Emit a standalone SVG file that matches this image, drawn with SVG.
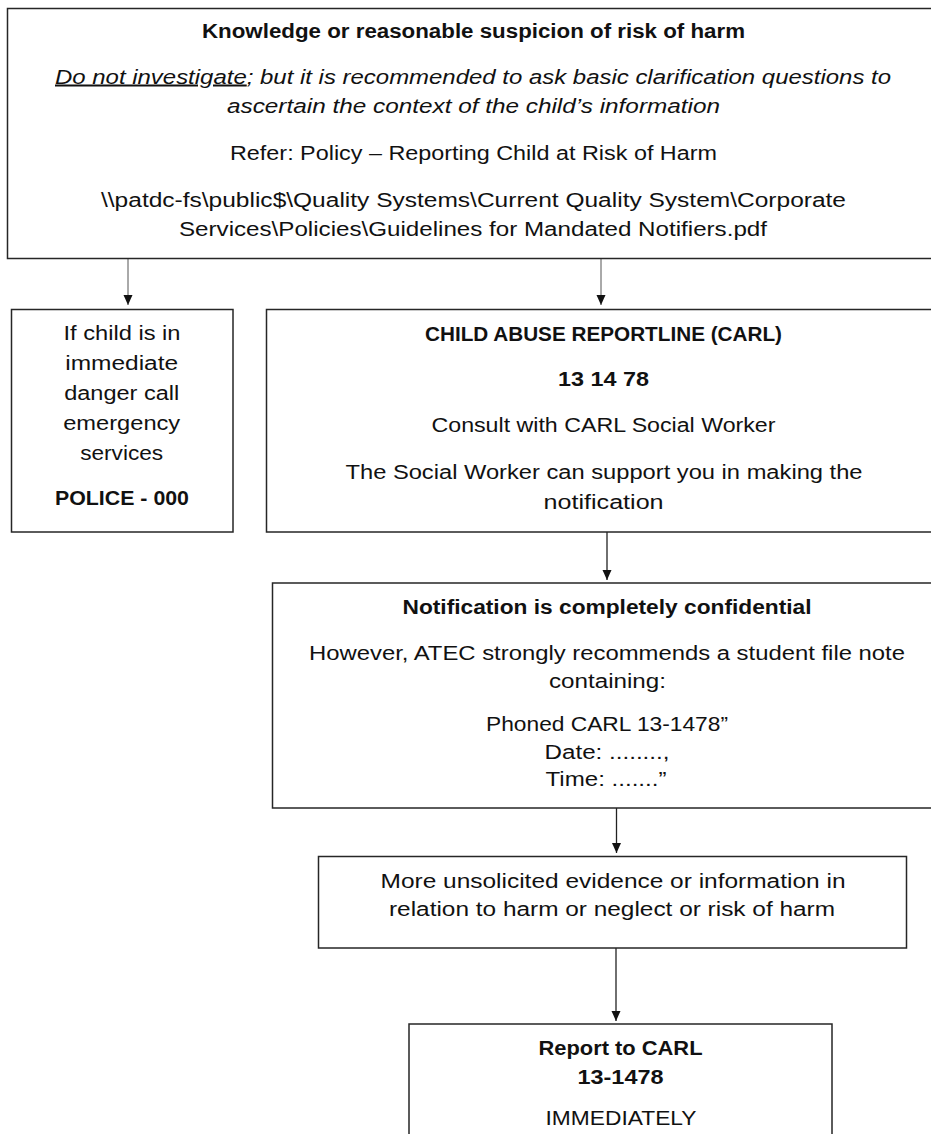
<svg xmlns="http://www.w3.org/2000/svg" width="931" height="1134" viewBox="0 0 931 1134">
<style>
  .box { fill: #ffffff; stroke: #262626; stroke-width: 1.5; }
  .t { font-family: "Liberation Sans", Arial, sans-serif; font-size: 20px; fill: #111111; text-anchor: middle; }
  .b { font-weight: bold; }
  .i { font-style: italic; }
  .u { text-decoration: underline; }
  .conn { stroke: #222222; stroke-width: 1.3; fill: none; marker-end: url(#arrow); }
  .conn.light { stroke: #555555; stroke-width: 1; }
</style>
<defs>
  <marker id="arrow" markerUnits="userSpaceOnUse" markerWidth="10" markerHeight="10" refX="10" refY="4.5" orient="auto">
    <path d="M0,0 L10,4.5 L0,9 Z" fill="#111111"/>
  </marker>
</defs>
<rect width="931" height="1134" fill="#ffffff"/>

<g id="connectors">
  <line class="conn light" x1="128" y1="259" x2="128" y2="305"/>
  <line class="conn light" x1="601" y1="259" x2="601" y2="305"/>
  <line class="conn" x1="607" y1="532" x2="607" y2="580"/>
  <line class="conn" x1="616.5" y1="808" x2="616.5" y2="853"/>
  <line class="conn" x1="616" y1="948" x2="616" y2="1021"/>
</g>

<g id="node-knowledge">
  <rect class="box" x="7.5" y="8.5" width="935" height="250"/>
  <text class="t b" x="473.5" y="37.5" textLength="543" lengthAdjust="spacingAndGlyphs">Knowledge or reasonable suspicion of risk of harm</text>
  <text class="t i" x="473" y="83.5" textLength="836" lengthAdjust="spacingAndGlyphs"><tspan class="u">Do not investigate</tspan>; but it is recommended to ask basic clarification questions to</text>
  <text class="t i" x="473.5" y="112.5" textLength="493" lengthAdjust="spacingAndGlyphs">ascertain the context of the child’s information</text>
  <text class="t" x="473.5" y="160" textLength="487" lengthAdjust="spacingAndGlyphs">Refer: Policy – Reporting Child at Risk of Harm</text>
  <text class="t" x="473.5" y="206.5" textLength="745" lengthAdjust="spacingAndGlyphs">\\patdc-fs\public$\Quality Systems\Current Quality System\Corporate</text>
  <text class="t" x="473" y="236" textLength="588" lengthAdjust="spacingAndGlyphs">Services\Policies\Guidelines for Mandated Notifiers.pdf</text>
</g>

<g id="node-police">
  <rect class="box" x="11.5" y="309.5" width="221.5" height="222.5"/>
  <text class="t" x="122" y="340" textLength="117" lengthAdjust="spacingAndGlyphs">If child is in</text>
  <text class="t" x="121.7" y="369.5" textLength="113" lengthAdjust="spacingAndGlyphs">immediate</text>
  <text class="t" x="121.7" y="399.5" textLength="115" lengthAdjust="spacingAndGlyphs">danger call</text>
  <text class="t" x="121.7" y="429.5" textLength="117" lengthAdjust="spacingAndGlyphs">emergency</text>
  <text class="t" x="121.7" y="459.5" textLength="83" lengthAdjust="spacingAndGlyphs">services</text>
  <text class="t b" x="122" y="504.5" textLength="134" lengthAdjust="spacingAndGlyphs">POLICE - 000</text>
</g>

<g id="node-carl">
  <rect class="box" x="266.5" y="309.5" width="670" height="222.5"/>
  <text class="t b" x="603.5" y="340.5" textLength="357" lengthAdjust="spacingAndGlyphs">CHILD ABUSE REPORTLINE (CARL)</text>
  <text class="t b" x="603.5" y="386" textLength="91" lengthAdjust="spacingAndGlyphs">13 14 78</text>
  <text class="t" x="603.5" y="431.5" textLength="344" lengthAdjust="spacingAndGlyphs">Consult with CARL Social Worker</text>
  <text class="t" x="604" y="479" textLength="517" lengthAdjust="spacingAndGlyphs">The Social Worker can support you in making the</text>
  <text class="t" x="603.6" y="508.5" textLength="120" lengthAdjust="spacingAndGlyphs">notification</text>
</g>

<g id="node-notification">
  <rect class="box" x="272.5" y="583" width="665" height="225"/>
  <text class="t b" x="607" y="613.5" textLength="409" lengthAdjust="spacingAndGlyphs">Notification is completely confidential</text>
  <text class="t" x="607" y="659.5" textLength="596" lengthAdjust="spacingAndGlyphs">However, ATEC strongly recommends a student file note</text>
  <text class="t" x="607.5" y="688" textLength="117" lengthAdjust="spacingAndGlyphs">containing:</text>
  <text class="t" x="607" y="731" textLength="242" lengthAdjust="spacingAndGlyphs">Phoned CARL 13-1478”</text>
  <text class="t" x="607" y="759" textLength="125" lengthAdjust="spacingAndGlyphs">Date: ........,</text>
  <text class="t" x="606" y="786" textLength="121" lengthAdjust="spacingAndGlyphs">Time: .......”</text>
</g>

<g id="node-more">
  <rect class="box" x="318.5" y="856.5" width="588" height="91.5"/>
  <text class="t" x="613" y="887.5" textLength="465" lengthAdjust="spacingAndGlyphs">More unsolicited evidence or information in</text>
  <text class="t" x="612" y="916" textLength="446" lengthAdjust="spacingAndGlyphs">relation to harm or neglect or risk of harm</text>
</g>

<g id="node-report">
  <rect class="box" x="409" y="1024" width="423" height="130"/>
  <text class="t b" x="620.5" y="1055" textLength="164" lengthAdjust="spacingAndGlyphs">Report to CARL</text>
  <text class="t b" x="620.5" y="1084" textLength="86" lengthAdjust="spacingAndGlyphs">13-1478</text>
  <text class="t" x="621" y="1124.5" textLength="151" lengthAdjust="spacingAndGlyphs">IMMEDIATELY</text>
</g>
</svg>
